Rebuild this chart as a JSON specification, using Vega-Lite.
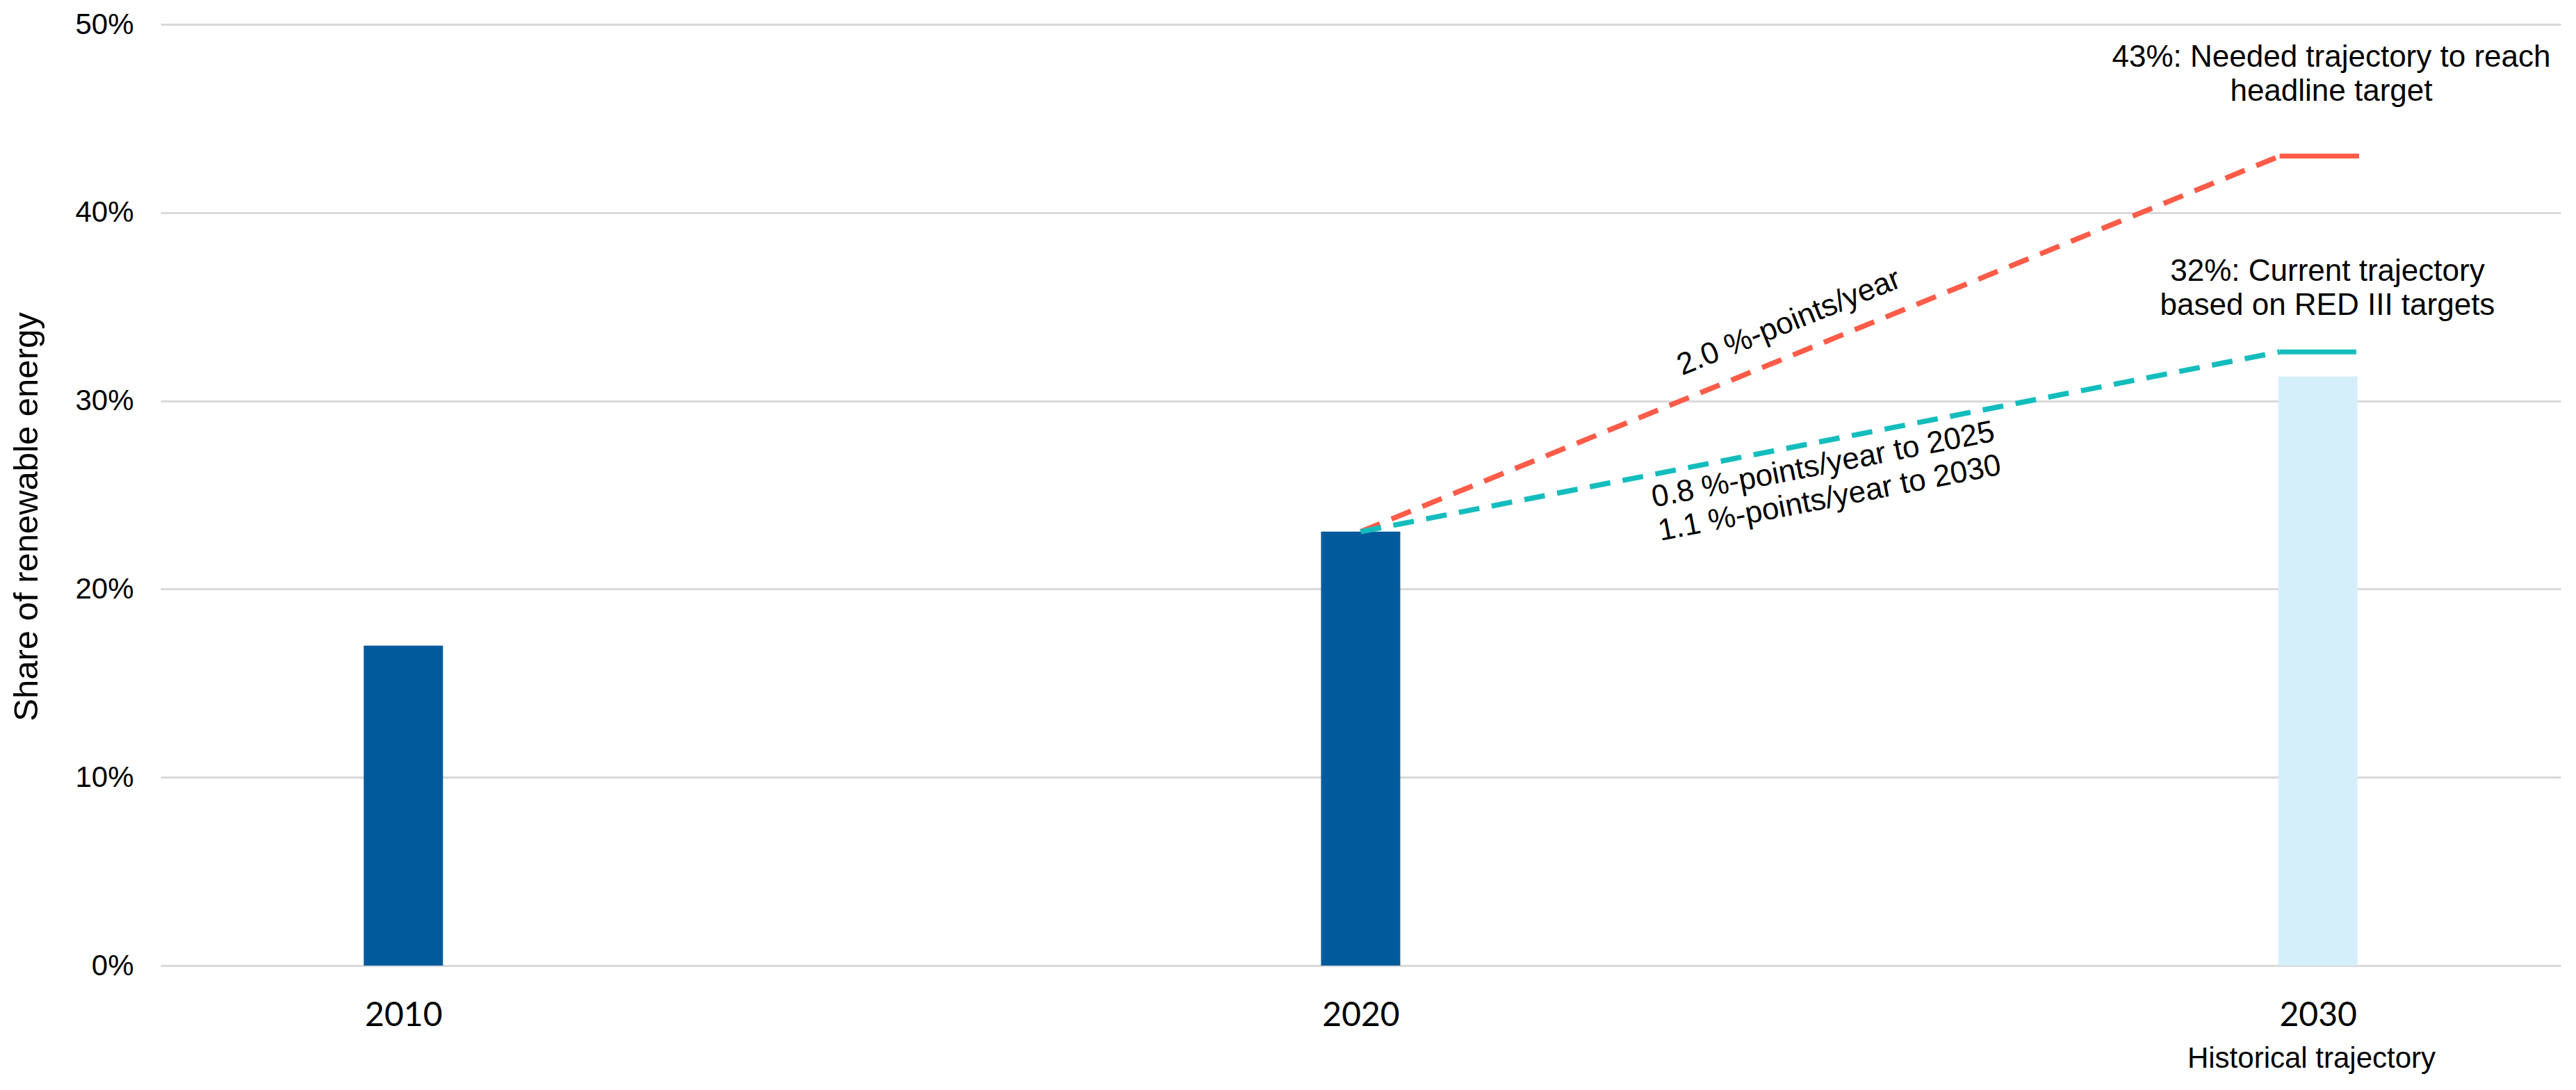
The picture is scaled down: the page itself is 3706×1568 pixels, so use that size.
{
  "$schema": "https://vega.github.io/schema/vega-lite/v6.json",
  "width": 3453,
  "height": 1354,
  "autosize": {"type": "none"},
  "padding": {"left": 231, "top": 35, "right": 22, "bottom": 179},
  "background": "white",
  "config": {"view": {"stroke": null}, "font": "Liberation Sans"},
  "datasets": {
    "bars": [
      {"year": 2010, "share": 17.0, "kind": "Historical"},
      {"year": 2020, "share": 23.05, "kind": "Historical"},
      {"year": 2030, "share": 31.3, "kind": "Projected"}
    ],
    "paths": [
      {"series": "Needed", "year": 2020, "share": 23.05},
      {"series": "Needed", "year": 2029.6, "share": 43.0},
      {"series": "Current", "year": 2020, "share": 23.05},
      {"series": "Current", "year": 2029.6, "share": 32.6}
    ],
    "targets": [
      {"series": "Needed", "start": 2029.6, "end": 2030.43, "share": 43.0},
      {"series": "Current", "start": 2029.6, "end": 2030.4, "share": 32.6}
    ]
  },
  "layer": [
    {
      "data": {"name": "bars"},
      "mark": {"type": "bar", "size": 114},
      "encoding": {
        "x": {
          "field": "year", "type": "quantitative",
          "scale": {"domain": [2007.5, 2032.5], "nice": false, "zero": false},
          "axis": {
            "values": [2010, 2020, 2030], "format": "d", "grid": false, "domain": false, "ticks": false,
            "labelFont": "Lato", "labelFontSize": 48, "labelColor": "#000000",
            "labelBaseline": "alphabetic", "labelPadding": 86,
            "title": "Historical trajectory", "titleFont": "Liberation Sans", "titleFontSize": 42,
            "titleFontWeight": "normal", "titleColor": "#000000",
            "titleX": 3094, "titleY": 146, "titleAlign": "center", "titleBaseline": "alphabetic"
          }
        },
        "y": {
          "field": "share", "type": "quantitative",
          "scale": {"domain": [0, 50], "nice": false},
          "axis": {
            "values": [0, 10, 20, 30, 40, 50], "labelExpr": "datum.value + '%'",
            "grid": true, "gridColor": "#d9d9d9", "gridWidth": 3,
            "domain": false, "ticks": false,
            "labelFont": "Liberation Sans", "labelFontSize": 42, "labelColor": "#000000",
            "labelPadding": 39, "labelBaseline": "middle",
            "title": "Share of renewable energy", "titleFont": "Liberation Sans", "titleFontSize": 49,
            "titleFontWeight": "normal", "titleColor": "#000000",
            "titleAngle": -90, "titleX": -178, "titleY": 708, "titleAlign": "center", "titleBaseline": "alphabetic"
          }
        },
        "color": {
          "field": "kind", "type": "nominal", "legend": null,
          "scale": {"domain": ["Historical", "Projected", "Needed", "Current"], "range": ["#005a9b", "#d5effa", "#fc5c48", "#14bdbd"]}
        }
      }
    },
    {
      "data": {"name": "paths"},
      "mark": {"type": "line", "strokeDash": [30, 18], "strokeWidth": 7.5},
      "encoding": {
        "x": {"field": "year", "type": "quantitative"},
        "y": {"field": "share", "type": "quantitative"},
        "color": {
          "field": "series", "type": "nominal", "legend": null,
          "scale": {"domain": ["Historical", "Projected", "Needed", "Current"], "range": ["#005a9b", "#d5effa", "#fc5c48", "#14bdbd"]}
        }
      }
    },
    {
      "data": {"name": "targets"},
      "mark": {"type": "rule", "strokeWidth": 7},
      "encoding": {
        "x": {"field": "start", "type": "quantitative"},
        "x2": {"field": "end"},
        "y": {"field": "share", "type": "quantitative"},
        "color": {
          "field": "series", "type": "nominal", "legend": null,
          "scale": {"domain": ["Historical", "Projected", "Needed", "Current"], "range": ["#005a9b", "#d5effa", "#fc5c48", "#14bdbd"]}
        }
      }
    },
    {
      "data": {"values": [{"year": 2030.14, "share": 47.75, "note": "43%: Needed trajectory to reach\nheadline target"}]},
      "mark": {"type": "text", "font": "Liberation Sans", "fontSize": 44, "lineHeight": 49, "lineBreak": "\n", "align": "center", "baseline": "alphabetic", "color": "#000000"},
      "encoding": {
        "x": {"field": "year", "type": "quantitative"},
        "y": {"field": "share", "type": "quantitative"},
        "text": {"field": "note", "type": "nominal"}
      }
    },
    {
      "data": {"values": [{"year": 2030.1, "share": 36.37, "note": "32%: Current trajectory\nbased on RED III targets"}]},
      "mark": {"type": "text", "font": "Liberation Sans", "fontSize": 44, "lineHeight": 49, "lineBreak": "\n", "align": "center", "baseline": "alphabetic", "color": "#000000"},
      "encoding": {
        "x": {"field": "year", "type": "quantitative"},
        "y": {"field": "share", "type": "quantitative"},
        "text": {"field": "note", "type": "nominal"}
      }
    },
    {
      "data": {"values": [{"year": 2024.51, "share": 33.71, "note": "2.0 %-points/year"}]},
      "mark": {"type": "text", "font": "Liberation Sans", "fontSize": 44, "angle": -22, "align": "center", "baseline": "alphabetic", "color": "#000000"},
      "encoding": {
        "x": {"field": "year", "type": "quantitative"},
        "y": {"field": "share", "type": "quantitative"},
        "text": {"field": "note", "type": "nominal"}
      }
    },
    {
      "data": {"values": [{"year": 2024.85, "share": 26.11, "note": "0.8 %-points/year to 2025\n1.1 %-points/year to 2030"}]},
      "mark": {"type": "text", "font": "Liberation Sans", "fontSize": 44, "lineHeight": 49, "lineBreak": "\n", "angle": -11, "align": "center", "baseline": "alphabetic", "color": "#000000"},
      "encoding": {
        "x": {"field": "year", "type": "quantitative"},
        "y": {"field": "share", "type": "quantitative"},
        "text": {"field": "note", "type": "nominal"}
      }
    }
  ]
}
